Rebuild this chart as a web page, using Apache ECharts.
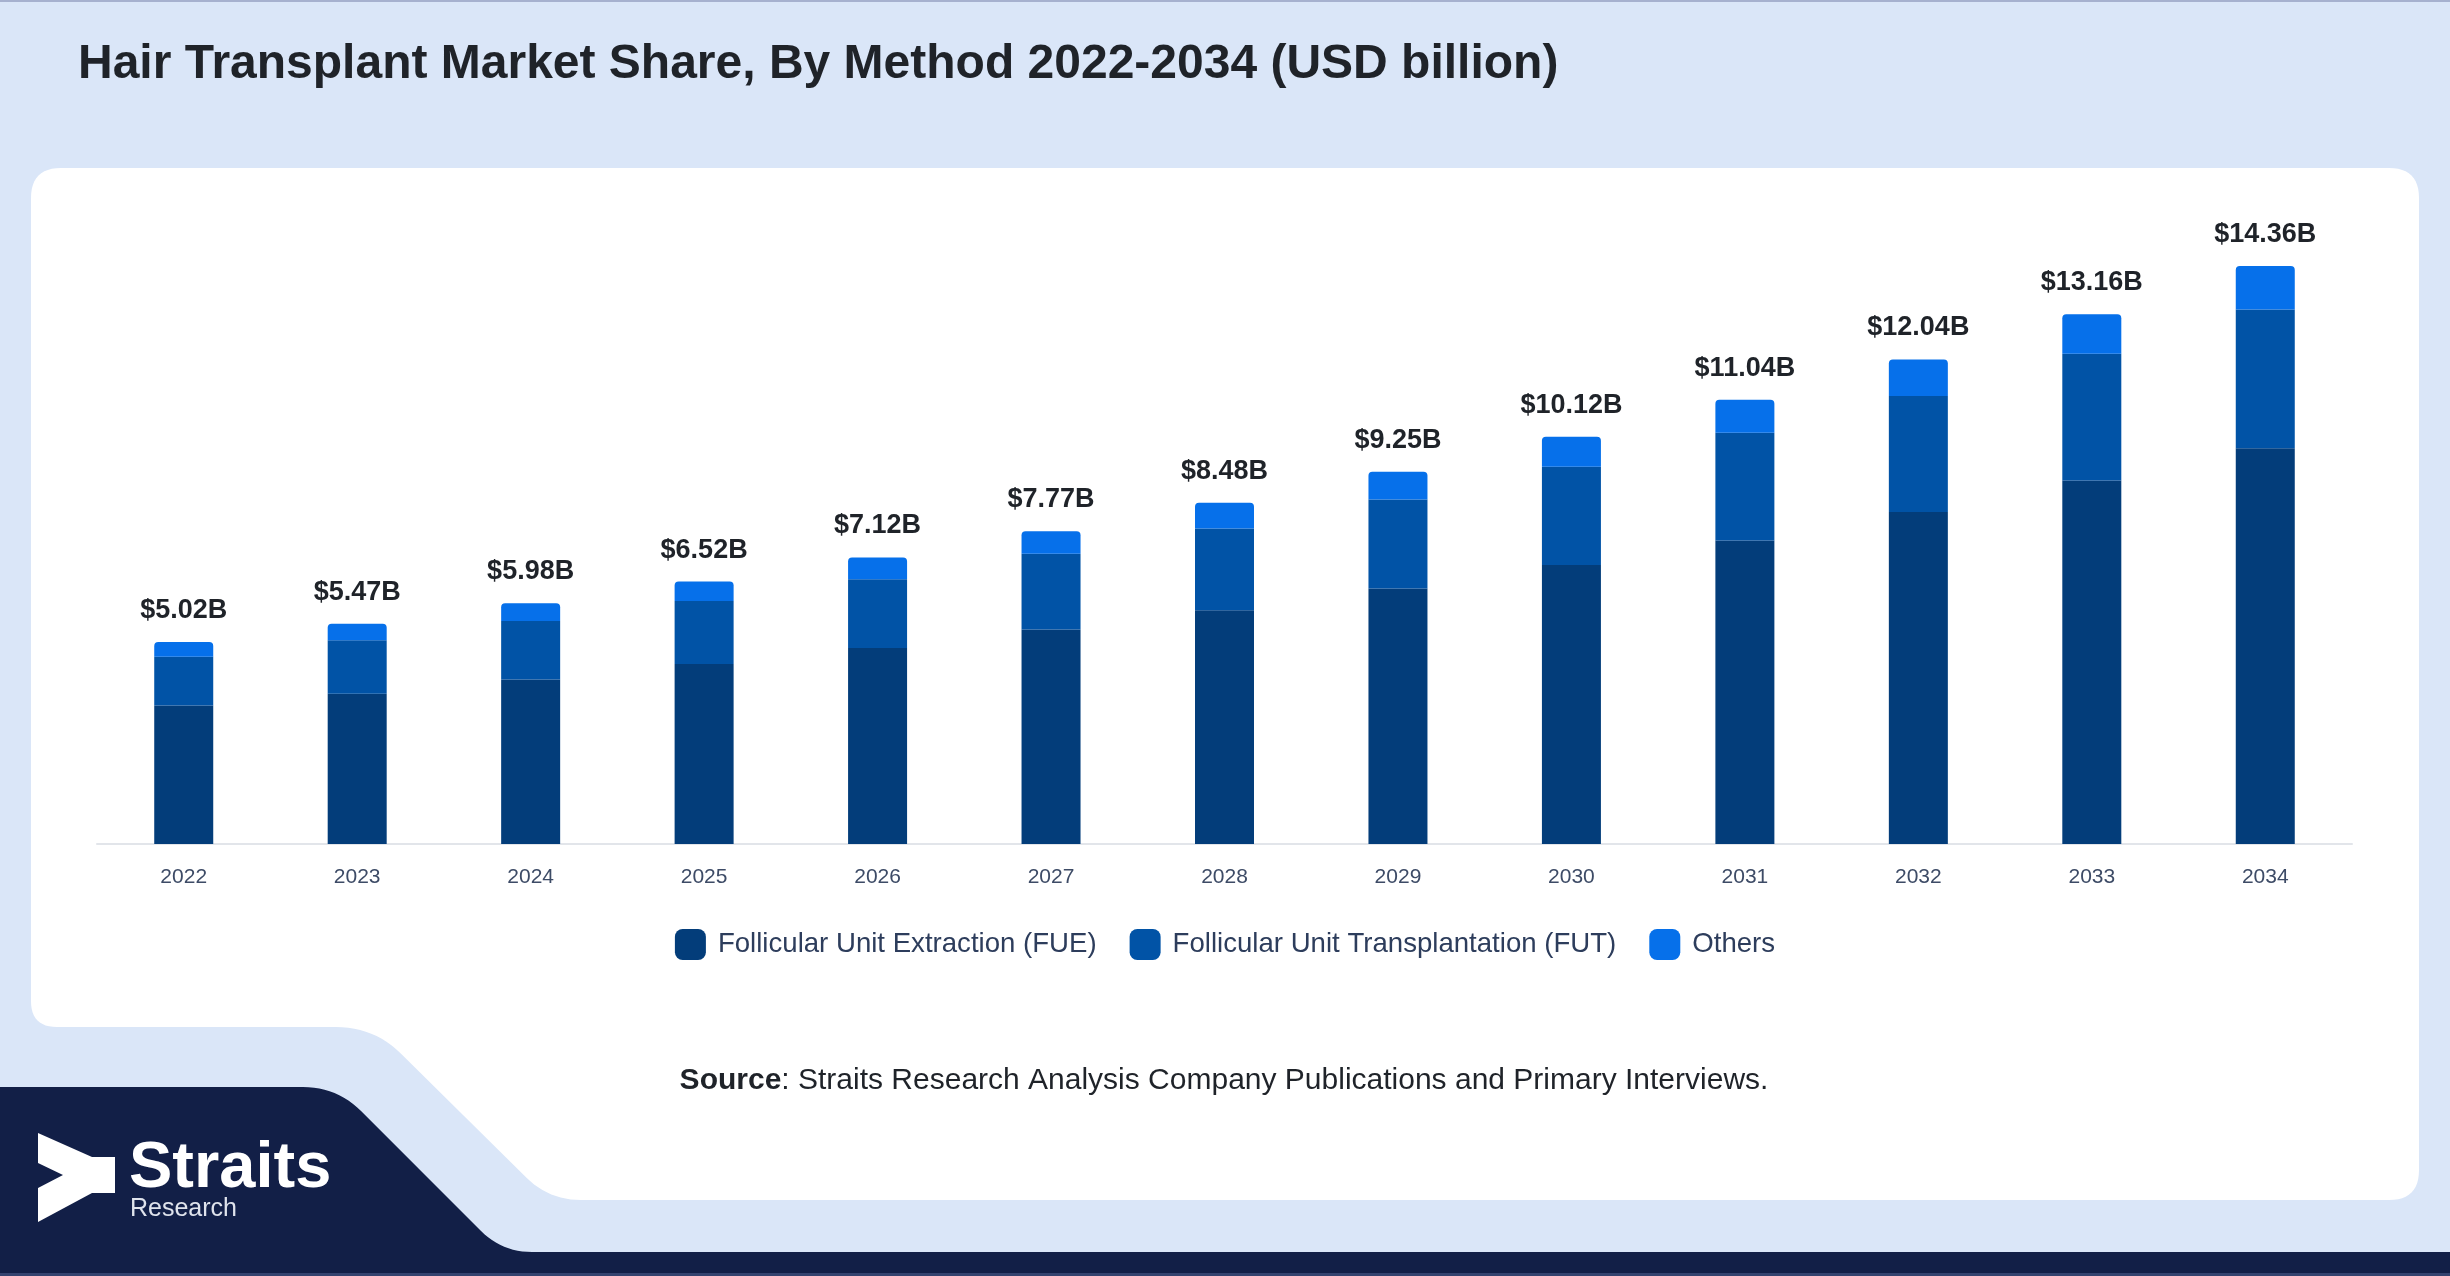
<!DOCTYPE html>
<html>
<head>
<meta charset="utf-8">
<script src="https://cdn.jsdelivr.net/npm/echarts@6/dist/echarts.min.js"></script>
<style>
html,body{margin:0;padding:0;background:#dae6f8;}
#chart{width:2450px;height:1276px;}
</style>
</head>
<body>
<div id="chart"></div>
<script>
// ---- data ----
const years = ['2022','2023','2024','2025','2026','2027','2028','2029','2030','2031','2032','2033','2034'];
const fue    = [3.44, 3.73, 4.09, 4.47, 4.87, 5.33, 5.81, 6.35, 6.93, 7.54, 8.25, 9.03, 9.83];
const fut    = [1.21, 1.33, 1.45, 1.57, 1.71, 1.88, 2.03, 2.21, 2.44, 2.68, 2.88, 3.15, 3.45];
const others = [0.37, 0.41, 0.44, 0.48, 0.54, 0.56, 0.64, 0.69, 0.75, 0.82, 0.91, 0.98, 1.08];
const totals = [5.02, 5.47, 5.98, 6.52, 7.12, 7.77, 8.48, 9.25, 10.12, 11.04, 12.04, 13.16, 14.36];
const seriesNames = ['Follicular Unit Extraction (FUE)', 'Follicular Unit Transplantation (FUT)', 'Others'];

const FONT = "'Liberation Sans', Arial, sans-serif";

// decorative helper: polygon with rounded corners
function roundedPoly(pts, radii) {
  const out = [];
  const n = pts.length;
  for (let i = 0; i < n; i++) {
    const p = pts[i], r = radii[i] || 0;
    if (!r) { out.push(p); continue; }
    const a = pts[(i - 1 + n) % n], b = pts[(i + 1) % n];
    const d1 = Math.hypot(a[0]-p[0], a[1]-p[1]), d2 = Math.hypot(b[0]-p[0], b[1]-p[1]);
    const s = [p[0] + (a[0]-p[0]) * r / d1, p[1] + (a[1]-p[1]) * r / d1];
    const e = [p[0] + (b[0]-p[0]) * r / d2, p[1] + (b[1]-p[1]) * r / d2];
    for (let k = 0; k <= 12; k++) {
      const t = k / 12;
      out.push([
        (1-t)*(1-t)*s[0] + 2*(1-t)*t*p[0] + t*t*e[0],
        (1-t)*(1-t)*s[1] + 2*(1-t)*t*p[1] + t*t*e[1]
      ]);
    }
  }
  return out;
}

const cardPts = roundedPoly(
  [[31,168],[2419,168],[2419,1200],[549,1200],[374,1027],[31,1027]],
  [30,30,30,32,38,26]
);
const navyPts = roundedPoly(
  [[0,1087],[337,1087],[502,1252],[2450,1252],[2450,1276],[0,1276]],
  [0,34,30,0,0,0]
);
const logoPts = [[38,1133],[92,1157],[115,1157],[115,1193],[92,1193],[38,1222],[38,1188],[63,1175],[38,1163]];

const chart = echarts.init(document.getElementById('chart'));
chart.setOption({
  backgroundColor: '#dae6f8',
  animation: false,
  title: {
    text: 'Hair Transplant Market Share, By Method 2022-2034 (USD billion)',
    left: 73, top: 36,
    textStyle: { fontFamily: FONT, fontSize: 48, fontWeight: 'bold', color: '#1f2329', lineHeight: 48 }
  },
  graphic: [
    { type: 'rect', z: -10, shape: { x: 0, y: 0, width: 2450, height: 2 }, style: { fill: '#a6b1cf' } },
    { type: 'polygon', z: -10, shape: { points: cardPts }, style: { fill: '#ffffff' } },
    { type: 'polygon', z: -10, shape: { points: navyPts }, style: { fill: '#121f47' } },
    { type: 'rect', z: -9, shape: { x: 0, y: 1273, width: 2450, height: 3 }, style: { fill: '#34436f' } },
    { type: 'polygon', z: 5, shape: { points: logoPts }, style: { fill: '#ffffff' } },
    { type: 'text', z: 5, x: 129, y: 1169, style: { text: 'Straits', fill: '#ffffff', font: "bold 65px " + FONT, verticalAlign: 'middle', align: 'left' } },
    { type: 'text', z: 5, x: 130, y: 1209, style: { text: 'Research', fill: '#dfe3ec', font: "25px " + FONT, verticalAlign: 'middle', align: 'left' } },
    { type: 'text', z: 5, x: 1224, y: 1081, style: {
        text: '{b|Source}: Straits Research Analysis Company Publications and Primary Interviews.',
        fill: '#1f2329', font: "30px " + FONT, align: 'center', verticalAlign: 'middle',
        rich: { b: { fontWeight: 'bold', fontSize: 30, fontFamily: FONT, fill: '#1f2329' } }
      } }
  ],
  legend: {
    data: seriesNames,
    left: 'center', top: 924,
    icon: 'roundRect', itemWidth: 31, itemHeight: 31, itemGap: 33,
    textStyle: { fontFamily: FONT, fontSize: 27.6, color: '#2d3d5c', padding: [0,0,0,7] }
  },
  grid: { left: 97, right: 98, top: 200, bottom: 432, containLabel: false },
  xAxis: {
    type: 'category', data: years,
    axisLine: { lineStyle: { color: '#e2e5ea', width: 2 } },
    axisTick: { show: false },
    axisLabel: { fontFamily: FONT, fontSize: 21, color: '#3d4b66', margin: 23 }
  },
  yAxis: { type: 'value', min: 0, max: 16, show: false, splitLine: { show: false } },
  series: [
    { name: seriesNames[0], type: 'bar', stack: 'total', data: fue, barWidth: 59,
      itemStyle: { color: '#033d7a' } },
    { name: seriesNames[1], type: 'bar', stack: 'total', data: fut, barWidth: 59,
      itemStyle: { color: '#0153a6' } },
    { name: seriesNames[2], type: 'bar', stack: 'total', data: others, barWidth: 59,
      itemStyle: { color: '#0670ea', borderRadius: [4,4,0,0] },
      label: { show: true, position: 'top', distance: 18,
        formatter: p => '$' + totals[p.dataIndex].toFixed(2) + 'B',
        fontFamily: FONT, fontSize: 27, fontWeight: 'bold', color: '#1f2329' } }
  ]
});
</script>
</body>
</html>
